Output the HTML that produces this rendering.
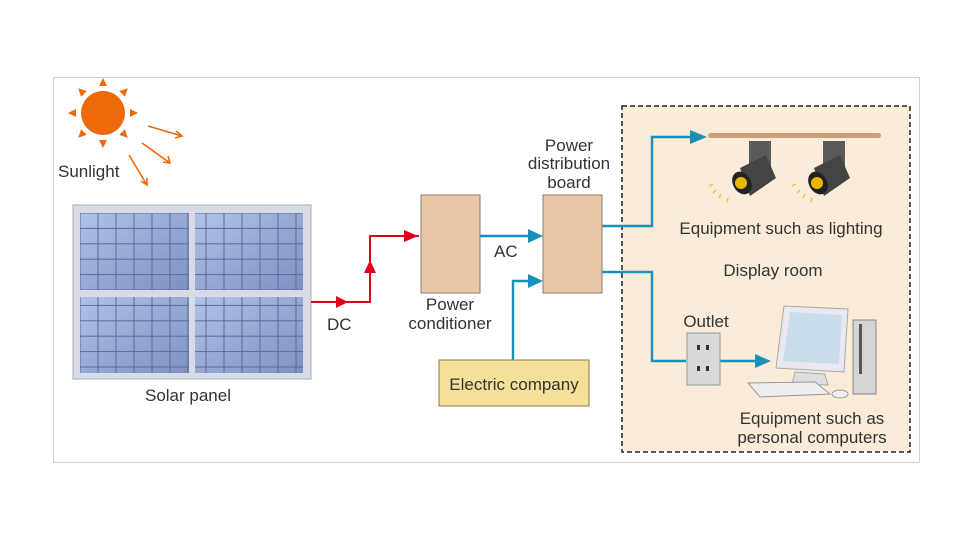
<!DOCTYPE html>
<html><head><meta charset="utf-8"><style>
html,body{margin:0;padding:0;background:#fff;width:960px;height:540px;overflow:hidden}
svg text{font-family:"Liberation Sans",sans-serif;fill:#333;font-size:17px}
</style></head><body>
<svg width="960" height="540" viewBox="0 0 960 540" xmlns="http://www.w3.org/2000/svg">
<defs>
<pattern id="cells" x="80" y="213" width="18" height="15.4" patternUnits="userSpaceOnUse">
<rect width="18" height="15.4" fill="none" stroke="#5f6b92" stroke-width="1"/>
</pattern>
<linearGradient id="pg" x1="0" y1="0" x2="1" y2="1"><stop offset="0" stop-color="#afc3e6"/><stop offset="1" stop-color="#7d90c4"/></linearGradient>
</defs>
<rect x="53.5" y="77.5" width="866" height="385" fill="#fff" stroke="#d0d0d0"/>
<rect x="622" y="106" width="288" height="346" fill="#fbecd9" stroke="#222" stroke-width="1.5" stroke-dasharray="5,3"/>
<!-- sun -->
<circle cx="103" cy="113" r="22" fill="#ec6a0c"/>
<g fill="#ec6a0c">
<g id="ray"><path d="M103,78 l-4,8 h8z"/></g>
<use href="#ray" transform="rotate(45 103 113)"/>
<use href="#ray" transform="rotate(90 103 113)"/>
<use href="#ray" transform="rotate(135 103 113)"/>
<use href="#ray" transform="rotate(180 103 113)"/>
<use href="#ray" transform="rotate(225 103 113)"/>
<use href="#ray" transform="rotate(270 103 113)"/>
<use href="#ray" transform="rotate(315 103 113)"/>
</g>
<g stroke="#ec6a0c" stroke-width="1.6" fill="none">
<path d="M148,126 L182,136 M176,131 l6,5 -7,2"/>
<path d="M142,143 L170,163 M163,162 l7,1 -2,-7"/>
<path d="M129,155 L147,185 M141,181 l6,4 0,-7"/>
</g>
<text x="58" y="177">Sunlight</text>
<!-- panel -->
<rect x="73" y="205" width="238" height="174" fill="#d7dbe6" stroke="#a8adbb"/>
<g>
<rect x="80" y="213" width="109" height="77" fill="url(#pg)"/><rect x="80" y="213" width="109" height="77" fill="url(#cells)"/>
<rect x="195" y="213" width="108" height="77" fill="url(#pg)"/><rect x="195" y="213" width="108" height="77" fill="url(#cells)"/>
<rect x="80" y="297" width="109" height="76" fill="url(#pg)"/><rect x="80" y="297" width="109" height="76" fill="url(#cells)"/>
<rect x="195" y="297" width="108" height="76" fill="url(#pg)"/><rect x="195" y="297" width="108" height="76" fill="url(#cells)"/>
</g>
<text x="188" y="401" text-anchor="middle">Solar panel</text>
<!-- DC -->
<path d="M311,302 H370 V236 H419" fill="none" stroke="#e0001a" stroke-width="2"/>
<path d="M336,296 L348,302 L336,308z M364,273 L370,260 L376,273z M404,230 L418,236 L404,242z" fill="#e0001a"/>
<text x="327" y="330">DC</text>
<rect x="421" y="195" width="59" height="98" fill="#e8c6a6" stroke="#8a7a6a"/>
<text x="450" y="310" text-anchor="middle">Power</text>
<text x="450" y="329" text-anchor="middle">conditioner</text>
<!-- AC -->
<g stroke="#1a8fb8" stroke-width="2.4" fill="none">
<path d="M480,236 H534"/>
<path d="M513,360 V281 H534"/>
<path d="M602,226 H652 V137 H696"/>
<path d="M602,272 H652 V361 H686"/>
<path d="M720,361 H760"/>
</g>
<g fill="#1a8fb8">
<path d="M528,229 L543,236 L528,243z"/>
<path d="M528,274 L543,281 L528,288z"/>
<path d="M690,130 L707,137 L690,144z"/>
<path d="M755,354 L771,361 L755,368z"/>
</g>
<text x="494" y="257">AC</text>
<rect x="543" y="195" width="59" height="98" fill="#e8c6a6" stroke="#8a7a6a"/>
<text x="569" y="151" text-anchor="middle">Power</text>
<text x="569" y="169" text-anchor="middle">distribution</text>
<text x="569" y="188" text-anchor="middle">board</text>
<rect x="439" y="360" width="150" height="46" fill="#f5e09a" stroke="#8a7a50"/>
<text x="514" y="390" text-anchor="middle">Electric company</text>
<!-- lighting -->
<rect x="708" y="133" width="173" height="5" rx="2.5" fill="#c9a07a"/>
<g>
<rect x="749" y="141" width="22" height="30" fill="#5a5a5a"/>
<path d="M740,168 L766,155 L776,178 L750,196z" fill="#444"/>
<ellipse cx="742" cy="183" rx="9" ry="12" transform="rotate(-30 742 183)" fill="#222"/>
<circle cx="741" cy="183" r="6" fill="#e8b800"/>
<rect x="823" y="141" width="22" height="30" fill="#5a5a5a"/>
<path d="M814,168 L840,155 L850,178 L824,196z" fill="#444"/>
<ellipse cx="818" cy="183" rx="9" ry="12" transform="rotate(-30 818 183)" fill="#222"/>
<circle cx="817" cy="183" r="6" fill="#e8b800"/>
</g>
<g stroke="#f0c830" stroke-width="1.5">
<path d="M709,186 l4,-2 M713,193 l3,-3 M719,198 l2,-4 M727,202 l1,-4 M792,186 l4,-2 M797,193 l3,-3 M803,198 l2,-4 M811,202 l1,-4"/>
</g>
<text x="781" y="234" text-anchor="middle">Equipment such as lighting</text>
<text x="773" y="276" text-anchor="middle">Display room</text>
<!-- outlet -->
<text x="706" y="327" text-anchor="middle">Outlet</text>
<rect x="687" y="333" width="33" height="52" fill="#d8d8d8" stroke="#999"/>
<rect x="697" y="345" width="3" height="5" fill="#333"/><rect x="706" y="345" width="3" height="5" fill="#333"/>
<rect x="697" y="366" width="3" height="5" fill="#333"/><rect x="706" y="366" width="3" height="5" fill="#333"/>
<!-- computer -->
<path d="M784,306 L848,309 L844,372 L776,368z" fill="#e8e8ee" stroke="#aaa"/>
<path d="M790,312 L842,315 L839,364 L783,361z" fill="#c8dcec"/>
<path d="M795,372 L825,374 L828,385 L792,384z" fill="#ddd" stroke="#aaa"/>
<path d="M748,383 L815,382 L830,394 L760,397z" fill="#eee" stroke="#999"/>
<ellipse cx="840" cy="394" rx="8" ry="4" fill="#eee" stroke="#999"/>
<rect x="853" y="320" width="23" height="74" fill="#d4d4d4" stroke="#888"/>
<rect x="859" y="324" width="3" height="50" fill="#555"/>
<text x="812" y="424" text-anchor="middle">Equipment such as</text>
<text x="812" y="443" text-anchor="middle">personal computers</text>
</svg>
</body></html>
